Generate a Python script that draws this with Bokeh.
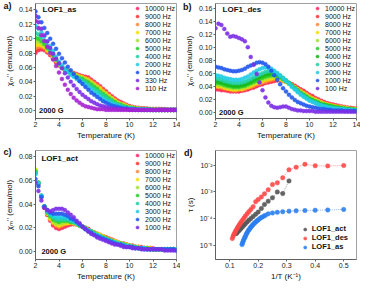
from bokeh.plotting import figure
from bokeh.layouts import gridplot
from bokeh.models import (Label, Legend, LegendItem, Range1d, FixedTicker, LinearAxis,
                          NumeralTickFormatter, CustomJSTickFormatter)
from bokeh.embed import file_html
from bokeh.resources import INLINE

FONT = "Liberation Sans"

# ---------------- data ----------------
T = [2.00, 2.25, 2.50, 2.75, 3.00, 3.25, 3.50, 3.75, 4.00, 4.25, 4.50, 4.75, 5.00, 5.25, 5.50, 5.75,
     6.00, 6.25, 6.50, 6.75, 7.00, 7.25, 7.50, 7.75, 8.00, 8.25, 8.50, 8.75, 9.00, 9.25, 9.50, 9.75,
     10.00, 10.25, 10.50, 10.75, 11.00, 11.25, 11.50, 11.75, 12.00, 12.25, 12.50, 12.75, 13.00, 13.25, 13.50, 13.75, 14.00]

# panel a: LOF1_as
a_labels = ["10000 Hz", "9000 Hz", "8000 Hz", "7000 Hz", "6000 Hz", "5000 Hz", "4000 Hz",
            "2000 Hz", "1000 Hz", "330 Hz", "110 Hz"]
a_10000 = [0.080, 0.084, 0.085, 0.084, 0.081, 0.077, 0.072, 0.067, 0.063, 0.060, 0.057, 0.055, 0.053, 0.052, 0.051, 0.049,
           0.048, 0.047, 0.046, 0.043, 0.040, 0.037, 0.034, 0.030, 0.027, 0.023, 0.020, 0.017, 0.014, 0.012, 0.010, 0.008,
           0.006, 0.005, 0.004, 0.004, 0.003, 0.003, 0.003, 0.002, 0.002, 0.002, 0.002, 0.002, 0.002, 0.001, 0.001, 0.001, 0.001]
a_9000 = [0.083, 0.086, 0.087, 0.086, 0.082, 0.078, 0.073, 0.068, 0.063, 0.060, 0.057, 0.055, 0.053, 0.052, 0.050, 0.049,
          0.047, 0.046, 0.045, 0.042, 0.039, 0.036, 0.033, 0.029, 0.026, 0.022, 0.019, 0.016, 0.013, 0.011, 0.009, 0.007,
          0.006, 0.005, 0.004, 0.003, 0.003, 0.003, 0.002, 0.002, 0.002, 0.002, 0.002, 0.002, 0.001, 0.001, 0.001, 0.001, 0.001]
a_8000 = [0.087, 0.089, 0.089, 0.087, 0.083, 0.079, 0.074, 0.069, 0.064, 0.060, 0.057, 0.055, 0.053, 0.051, 0.050, 0.048,
          0.047, 0.045, 0.044, 0.041, 0.038, 0.035, 0.032, 0.028, 0.025, 0.021, 0.018, 0.015, 0.012, 0.010, 0.009, 0.007,
          0.005, 0.004, 0.004, 0.003, 0.003, 0.002, 0.002, 0.002, 0.002, 0.002, 0.002, 0.001, 0.001, 0.001, 0.001, 0.001, 0.001]
a_7000 = [0.091, 0.092, 0.091, 0.089, 0.084, 0.080, 0.075, 0.070, 0.064, 0.061, 0.057, 0.055, 0.053, 0.051, 0.049, 0.047,
          0.046, 0.044, 0.042, 0.039, 0.036, 0.033, 0.030, 0.026, 0.023, 0.020, 0.017, 0.014, 0.011, 0.009, 0.008, 0.006,
          0.005, 0.004, 0.003, 0.003, 0.002, 0.002, 0.002, 0.002, 0.002, 0.002, 0.001, 0.001, 0.001, 0.001, 0.001, 0.001, 0.001]
a_6000 = [0.096, 0.096, 0.094, 0.091, 0.086, 0.081, 0.076, 0.070, 0.064, 0.061, 0.057, 0.054, 0.052, 0.050, 0.048, 0.046,
          0.045, 0.043, 0.041, 0.038, 0.035, 0.032, 0.028, 0.025, 0.022, 0.019, 0.016, 0.013, 0.010, 0.009, 0.007, 0.006,
          0.004, 0.004, 0.003, 0.003, 0.002, 0.002, 0.002, 0.002, 0.002, 0.001, 0.001, 0.001, 0.001, 0.001, 0.001, 0.001, 0.001]
a_5000 = [0.101, 0.100, 0.097, 0.093, 0.087, 0.082, 0.077, 0.071, 0.065, 0.061, 0.057, 0.054, 0.052, 0.050, 0.047, 0.045,
          0.044, 0.041, 0.039, 0.036, 0.033, 0.030, 0.026, 0.023, 0.020, 0.017, 0.014, 0.012, 0.009, 0.008, 0.006, 0.005,
          0.004, 0.003, 0.003, 0.002, 0.002, 0.002, 0.002, 0.002, 0.001, 0.001, 0.001, 0.001, 0.001, 0.001, 0.001, 0.001, 0.001]
a_4000 = [0.108, 0.106, 0.102, 0.097, 0.090, 0.085, 0.079, 0.072, 0.066, 0.062, 0.058, 0.054, 0.051, 0.049, 0.046, 0.044,
          0.042, 0.039, 0.036, 0.033, 0.030, 0.027, 0.024, 0.021, 0.018, 0.015, 0.013, 0.010, 0.008, 0.007, 0.005, 0.004,
          0.004, 0.003, 0.002, 0.002, 0.002, 0.002, 0.002, 0.001, 0.001, 0.001, 0.001, 0.001, 0.001, 0.001, 0.001, 0.001, 0.001]
a_2000 = [0.118, 0.114, 0.109, 0.103, 0.096, 0.090, 0.083, 0.075, 0.068, 0.063, 0.058, 0.054, 0.050, 0.047, 0.044, 0.041,
          0.038, 0.035, 0.032, 0.029, 0.025, 0.022, 0.019, 0.016, 0.014, 0.012, 0.010, 0.008, 0.006, 0.005, 0.004, 0.003,
          0.003, 0.002, 0.002, 0.002, 0.002, 0.001, 0.001, 0.001, 0.001, 0.001, 0.001, 0.001, 0.001, 0.001, 0.001, 0.001, 0.001]
a_1000 = [0.138, 0.130, 0.123, 0.115, 0.108, 0.100, 0.093, 0.086, 0.079, 0.073, 0.067, 0.061, 0.056, 0.051, 0.046, 0.041,
          0.037, 0.033, 0.029, 0.025, 0.022, 0.019, 0.016, 0.013, 0.011, 0.009, 0.007, 0.006, 0.005, 0.004, 0.003, 0.003,
          0.002, 0.002, 0.002, 0.001, 0.001, 0.001, 0.001, 0.001, 0.001, 0.001, 0.001, 0.001, 0.001, 0.001, 0.001, 0.001, 0.001]
a_330 = [0.132, 0.123, 0.114, 0.105, 0.096, 0.087, 0.079, 0.072, 0.066, 0.059, 0.052, 0.046, 0.040, 0.035, 0.030, 0.026,
         0.022, 0.019, 0.016, 0.013, 0.011, 0.009, 0.007, 0.006, 0.005, 0.004, 0.003, 0.003, 0.002, 0.002, 0.002, 0.002,
         0.001, 0.001, 0.001, 0.001, 0.001, 0.001, 0.001, 0.001, 0.001, 0.001, 0.001, 0.001, 0.001, 0.001, 0.001, 0.001, 0.001]
a_110 = [0.125, 0.115, 0.105, 0.097, 0.089, 0.080, 0.071, 0.062, 0.053, 0.044, 0.036, 0.029, 0.023, 0.018, 0.014, 0.011,
         0.008, 0.006, 0.005, 0.004, 0.003, 0.002, 0.002, 0.002, 0.001, 0.001, 0.001, 0.001, 0.001, 0.001, 0.001, 0.001,
         0.001, 0.001, 0.001, 0.001, 0.001, 0.001, 0.001, 0.001, 0.001, 0.001, 0.001, 0.001, 0.001, 0.001, 0.001, 0.001, 0.001]

# panel b: LOF1_des
b_labels = ["10000 Hz", "9000 Hz", "8000 Hz", "7000 Hz", "6000 Hz", "5000 Hz", "4000 Hz",
            "3000 Hz", "2000 Hz", "1000 Hz", "100 Hz"]
b_10000 = [0.035, 0.035, 0.034, 0.034, 0.033, 0.032, 0.032, 0.032, 0.032, 0.033, 0.034, 0.035, 0.037, 0.038, 0.040, 0.042,
           0.043, 0.045, 0.046, 0.047, 0.048, 0.049, 0.049, 0.048, 0.047, 0.045, 0.043, 0.041, 0.038, 0.035, 0.033, 0.030,
           0.027, 0.025, 0.022, 0.020, 0.018, 0.016, 0.014, 0.013, 0.012, 0.011, 0.010, 0.009, 0.008, 0.007, 0.007, 0.006, 0.006]
b_9000 = [0.037, 0.037, 0.036, 0.035, 0.034, 0.034, 0.033, 0.033, 0.033, 0.034, 0.035, 0.036, 0.038, 0.039, 0.041, 0.043,
          0.044, 0.046, 0.047, 0.048, 0.049, 0.050, 0.050, 0.049, 0.047, 0.045, 0.043, 0.040, 0.037, 0.035, 0.032, 0.029,
          0.026, 0.024, 0.021, 0.019, 0.017, 0.015, 0.014, 0.012, 0.011, 0.010, 0.009, 0.008, 0.008, 0.007, 0.006, 0.006, 0.005]
b_8000 = [0.039, 0.039, 0.038, 0.037, 0.036, 0.035, 0.034, 0.034, 0.035, 0.035, 0.036, 0.038, 0.039, 0.041, 0.043, 0.044,
          0.046, 0.047, 0.049, 0.050, 0.051, 0.051, 0.050, 0.049, 0.047, 0.045, 0.042, 0.039, 0.036, 0.033, 0.030, 0.028,
          0.025, 0.022, 0.020, 0.018, 0.016, 0.014, 0.013, 0.011, 0.010, 0.009, 0.009, 0.008, 0.007, 0.006, 0.006, 0.005, 0.005]
b_7000 = [0.041, 0.040, 0.040, 0.038, 0.037, 0.036, 0.035, 0.035, 0.036, 0.036, 0.038, 0.039, 0.041, 0.043, 0.045, 0.046,
          0.048, 0.050, 0.051, 0.052, 0.053, 0.052, 0.051, 0.049, 0.047, 0.044, 0.041, 0.038, 0.035, 0.032, 0.029, 0.026,
          0.023, 0.021, 0.019, 0.017, 0.015, 0.013, 0.012, 0.011, 0.010, 0.009, 0.008, 0.007, 0.007, 0.006, 0.005, 0.005, 0.005]
b_6000 = [0.043, 0.042, 0.042, 0.040, 0.039, 0.038, 0.037, 0.037, 0.037, 0.038, 0.039, 0.041, 0.043, 0.045, 0.047, 0.049,
          0.051, 0.052, 0.054, 0.055, 0.055, 0.054, 0.052, 0.050, 0.047, 0.044, 0.041, 0.037, 0.034, 0.031, 0.028, 0.025,
          0.022, 0.020, 0.018, 0.016, 0.014, 0.013, 0.011, 0.010, 0.009, 0.008, 0.008, 0.007, 0.006, 0.006, 0.005, 0.005, 0.004]
b_5000 = [0.045, 0.045, 0.044, 0.042, 0.041, 0.040, 0.039, 0.039, 0.039, 0.040, 0.041, 0.043, 0.045, 0.047, 0.049, 0.051,
          0.053, 0.055, 0.056, 0.057, 0.057, 0.056, 0.054, 0.051, 0.048, 0.045, 0.041, 0.037, 0.034, 0.030, 0.027, 0.024,
          0.021, 0.019, 0.017, 0.015, 0.013, 0.012, 0.011, 0.010, 0.009, 0.008, 0.007, 0.006, 0.006, 0.005, 0.005, 0.004, 0.004]
b_4000 = [0.048, 0.047, 0.046, 0.045, 0.043, 0.042, 0.041, 0.041, 0.041, 0.042, 0.043, 0.045, 0.047, 0.050, 0.052, 0.054,
          0.056, 0.058, 0.059, 0.060, 0.059, 0.058, 0.055, 0.052, 0.049, 0.045, 0.041, 0.037, 0.033, 0.029, 0.026, 0.023,
          0.020, 0.018, 0.016, 0.014, 0.012, 0.011, 0.010, 0.009, 0.008, 0.007, 0.007, 0.006, 0.005, 0.005, 0.004, 0.004, 0.004]
b_3000 = [0.052, 0.051, 0.050, 0.048, 0.047, 0.046, 0.045, 0.045, 0.045, 0.046, 0.047, 0.049, 0.051, 0.054, 0.056, 0.058,
          0.060, 0.062, 0.063, 0.063, 0.062, 0.060, 0.057, 0.053, 0.049, 0.045, 0.041, 0.037, 0.033, 0.029, 0.025, 0.022,
          0.019, 0.017, 0.015, 0.013, 0.011, 0.010, 0.009, 0.008, 0.007, 0.006, 0.006, 0.005, 0.005, 0.004, 0.004, 0.004, 0.003]
b_2000 = [0.057, 0.056, 0.055, 0.053, 0.052, 0.051, 0.050, 0.050, 0.050, 0.051, 0.053, 0.055, 0.058, 0.061, 0.064, 0.066,
          0.068, 0.069, 0.068, 0.067, 0.064, 0.060, 0.056, 0.052, 0.048, 0.044, 0.039, 0.035, 0.031, 0.027, 0.024, 0.021,
          0.018, 0.016, 0.014, 0.012, 0.011, 0.009, 0.008, 0.007, 0.006, 0.006, 0.005, 0.005, 0.004, 0.004, 0.004, 0.003, 0.003]
b_1000 = [0.070, 0.069, 0.068, 0.066, 0.065, 0.064, 0.063, 0.063, 0.064, 0.065, 0.067, 0.070, 0.072, 0.074, 0.076, 0.077,
          0.076, 0.074, 0.070, 0.064, 0.057, 0.050, 0.043, 0.037, 0.032, 0.027, 0.023, 0.019, 0.016, 0.014, 0.012, 0.010,
          0.009, 0.008, 0.007, 0.006, 0.005, 0.005, 0.004, 0.004, 0.003, 0.003, 0.003, 0.003, 0.002, 0.002, 0.002, 0.002, 0.002]
b_100 = [0.129, 0.136, 0.134, 0.128, 0.121, 0.116, 0.117, 0.116, 0.114, 0.112, 0.109, 0.100, 0.085, 0.073, 0.059, 0.046,
         0.034, 0.023, 0.015, 0.010, 0.008, 0.007, 0.008, 0.009, 0.009, 0.007, 0.005, 0.004, 0.003, 0.003, 0.002, 0.002,
         0.002, 0.002, 0.001, 0.001, 0.001, 0.001, 0.001, 0.001, 0.001, 0.001, 0.001, 0.001, 0.001, 0.001, 0.001, 0.001, 0.001]

# panel c: LOF1_act
c_labels = ["10000 Hz", "9000 Hz", "8000 Hz", "7000 Hz", "6000 Hz", "5000 Hz", "4000 Hz",
            "3000 Hz", "2000 Hz", "1000 Hz"]
c_10000 = [0.067, 0.057, 0.046, 0.037, 0.031, 0.026, 0.022, 0.020, 0.019, 0.020, 0.021, 0.022, 0.023, 0.023, 0.023, 0.022,
           0.021, 0.020, 0.019, 0.017, 0.016, 0.015, 0.014, 0.013, 0.012, 0.011, 0.010, 0.009, 0.008, 0.007, 0.007, 0.006,
           0.005, 0.005, 0.004, 0.004, 0.004, 0.003, 0.003, 0.003, 0.003, 0.002, 0.002, 0.002, 0.002, 0.002, 0.002, 0.002, 0.002]
c_9000 = [0.068, 0.057, 0.046, 0.037, 0.031, 0.027, 0.023, 0.021, 0.020, 0.021, 0.022, 0.023, 0.023, 0.024, 0.023, 0.022,
          0.021, 0.020, 0.019, 0.017, 0.016, 0.015, 0.014, 0.013, 0.012, 0.011, 0.010, 0.009, 0.008, 0.007, 0.006, 0.006,
          0.005, 0.005, 0.004, 0.004, 0.003, 0.003, 0.003, 0.003, 0.002, 0.002, 0.002, 0.002, 0.002, 0.002, 0.002, 0.002, 0.002]
c_8000 = [0.068, 0.058, 0.046, 0.038, 0.032, 0.027, 0.024, 0.022, 0.021, 0.022, 0.023, 0.024, 0.024, 0.024, 0.023, 0.022,
          0.021, 0.020, 0.018, 0.017, 0.016, 0.015, 0.014, 0.013, 0.012, 0.011, 0.010, 0.009, 0.008, 0.007, 0.006, 0.006,
          0.005, 0.005, 0.004, 0.004, 0.003, 0.003, 0.003, 0.003, 0.002, 0.002, 0.002, 0.002, 0.002, 0.002, 0.002, 0.002, 0.002]
c_7000 = [0.069, 0.058, 0.047, 0.038, 0.032, 0.028, 0.025, 0.023, 0.022, 0.023, 0.024, 0.024, 0.025, 0.024, 0.023, 0.022,
          0.021, 0.020, 0.018, 0.017, 0.016, 0.015, 0.014, 0.013, 0.011, 0.010, 0.009, 0.009, 0.008, 0.007, 0.006, 0.006,
          0.005, 0.004, 0.004, 0.004, 0.003, 0.003, 0.003, 0.003, 0.002, 0.002, 0.002, 0.002, 0.002, 0.002, 0.002, 0.002, 0.002]
c_6000 = [0.068, 0.058, 0.047, 0.038, 0.033, 0.029, 0.026, 0.024, 0.024, 0.024, 0.025, 0.025, 0.025, 0.024, 0.023, 0.022,
          0.021, 0.020, 0.018, 0.017, 0.016, 0.015, 0.013, 0.012, 0.011, 0.010, 0.009, 0.008, 0.008, 0.007, 0.006, 0.005,
          0.005, 0.004, 0.004, 0.003, 0.003, 0.003, 0.003, 0.002, 0.002, 0.002, 0.002, 0.002, 0.002, 0.002, 0.002, 0.002, 0.002]
c_5000 = [0.067, 0.058, 0.047, 0.038, 0.033, 0.030, 0.027, 0.026, 0.025, 0.026, 0.026, 0.026, 0.025, 0.025, 0.024, 0.022,
          0.021, 0.020, 0.018, 0.017, 0.016, 0.014, 0.013, 0.012, 0.011, 0.010, 0.009, 0.008, 0.007, 0.007, 0.006, 0.005,
          0.005, 0.004, 0.004, 0.003, 0.003, 0.003, 0.003, 0.002, 0.002, 0.002, 0.002, 0.002, 0.002, 0.002, 0.002, 0.002, 0.002]
c_4000 = [0.066, 0.058, 0.047, 0.038, 0.034, 0.031, 0.029, 0.027, 0.027, 0.027, 0.027, 0.027, 0.026, 0.025, 0.024, 0.022,
          0.021, 0.019, 0.018, 0.017, 0.015, 0.014, 0.013, 0.012, 0.011, 0.010, 0.009, 0.008, 0.007, 0.006, 0.006, 0.005,
          0.005, 0.004, 0.004, 0.003, 0.003, 0.003, 0.002, 0.002, 0.002, 0.002, 0.002, 0.002, 0.002, 0.002, 0.002, 0.002, 0.002]
c_3000 = [0.065, 0.057, 0.047, 0.038, 0.034, 0.032, 0.030, 0.029, 0.029, 0.029, 0.029, 0.028, 0.027, 0.026, 0.024, 0.023,
          0.021, 0.019, 0.018, 0.016, 0.015, 0.014, 0.013, 0.011, 0.010, 0.009, 0.008, 0.008, 0.007, 0.006, 0.005, 0.005,
          0.004, 0.004, 0.003, 0.003, 0.003, 0.003, 0.002, 0.002, 0.002, 0.002, 0.002, 0.002, 0.002, 0.002, 0.002, 0.002, 0.002]
c_2000 = [0.061, 0.055, 0.046, 0.038, 0.035, 0.033, 0.032, 0.032, 0.032, 0.032, 0.031, 0.030, 0.028, 0.027, 0.025, 0.023,
          0.021, 0.019, 0.017, 0.016, 0.014, 0.013, 0.012, 0.011, 0.010, 0.009, 0.008, 0.007, 0.006, 0.006, 0.005, 0.004,
          0.004, 0.004, 0.003, 0.003, 0.003, 0.002, 0.002, 0.002, 0.002, 0.002, 0.002, 0.002, 0.002, 0.002, 0.002, 0.002, 0.001]
c_1000 = [0.058, 0.051, 0.043, 0.037, 0.035, 0.034, 0.035, 0.036, 0.036, 0.036, 0.035, 0.033, 0.031, 0.029, 0.026, 0.024,
          0.021, 0.019, 0.017, 0.015, 0.014, 0.012, 0.011, 0.010, 0.009, 0.008, 0.007, 0.006, 0.006, 0.005, 0.004, 0.004,
          0.004, 0.003, 0.003, 0.003, 0.002, 0.002, 0.002, 0.002, 0.002, 0.002, 0.002, 0.002, 0.001, 0.001, 0.001, 0.001, 0.001]

# panel d: relaxation time vs 1/T
d_labels = ["LOF1_act", "LOF1_des", "LOF1_as"]
act_invT = [0.122, 0.125, 0.128, 0.132, 0.136, 0.140, 0.145, 0.150, 0.155, 0.161, 0.167, 0.174, 0.182, 0.191,
            0.200, 0.211, 0.222, 0.235, 0.250, 0.267, 0.286, 0.308]
act_tau = [2.7e-5, 2.9e-5, 3.2e-5, 3.5e-5, 3.9e-5, 4.3e-5, 4.9e-5, 5.6e-5, 6.4e-5, 7.4e-5, 8.6e-5, 1.0e-4, 1.2e-4, 1.45e-4,
           1.75e-4, 2.4e-4, 3.4e-4, 4.5e-4, 6.0e-4, 1.0e-3, 8.7e-4, 2.6e-3]
des_invT = [0.109, 0.112, 0.115, 0.118, 0.121, 0.125, 0.128, 0.132, 0.136, 0.140, 0.145, 0.150, 0.155, 0.161, 0.167,
            0.174, 0.182, 0.191, 0.200, 0.211, 0.222, 0.235, 0.250, 0.267, 0.286, 0.308, 0.333, 0.364, 0.400, 0.444, 0.500]
des_tau = [1.8e-5, 2.2e-5, 2.6e-5, 3.0e-5, 3.5e-5, 4.1e-5, 4.7e-5, 5.5e-5, 6.4e-5, 7.5e-5, 8.8e-5, 1.05e-4, 1.25e-4, 1.5e-4, 1.8e-4,
           2.2e-4, 2.8e-4, 4.3e-4, 5.2e-4, 6.5e-4, 8.5e-4, 1.2e-3, 1.9e-3, 2.2e-3, 3.4e-3, 6.8e-3, 8.5e-3, 1.1e-2, 9.6e-3, 9.5e-3, 9.8e-3]
as_invT = [0.143, 0.145, 0.147, 0.149, 0.152, 0.154, 0.156, 0.159, 0.161, 0.164, 0.167, 0.170, 0.173, 0.176, 0.179, 0.182,
           0.186, 0.190, 0.194, 0.198, 0.203, 0.208, 0.213, 0.219, 0.225, 0.235, 0.250, 0.267, 0.286, 0.308, 0.333, 0.364,
           0.400, 0.444, 0.500]
as_tau = [1.05e-5, 1.2e-5, 1.4e-5, 1.6e-5, 1.85e-5, 2.05e-5, 2.3e-5, 2.7e-5, 2.95e-5, 3.4e-5, 3.75e-5, 4.15e-5, 4.6e-5, 5.0e-5,
          5.5e-5, 6.0e-5, 6.6e-5, 7.2e-5, 7.9e-5, 8.6e-5, 9.5e-5, 1.05e-4, 1.12e-4, 1.22e-4, 1.32e-4, 1.5e-4, 1.62e-4, 1.72e-4,
          1.8e-4, 1.9e-4, 1.95e-4, 2.0e-4, 2.05e-4, 2.1e-4, 2.2e-4]

# ---------------- styling ----------------
PINK, RED, ORANGE, YELLOW = "#ff2e6e", "#ff3a3a", "#ff8c42", "#f2e200"
YGREEN, GREEN, DGREEN, TEAL = "#a4e23a", "#2ccf2c", "#18b818", "#22d0a8"
CYAN, BLUE, VIOLET, PURPLE = "#22cde6", "#2458ee", "#7b2fe6", "#a623d2"

a_colors = [PINK, RED, ORANGE, YELLOW, YGREEN, GREEN, TEAL, CYAN, BLUE, VIOLET, PURPLE]
b_colors = [PINK, RED, ORANGE, YELLOW, YGREEN, GREEN, DGREEN, TEAL, CYAN, BLUE, VIOLET]
c_colors = [PINK, RED, ORANGE, YELLOW, YGREEN, GREEN, TEAL, CYAN, BLUE, VIOLET]
d_colors = ["#555555", "#ff4848", "#2a7ff0"]

YLABEL = "\u03c7\u2098'' (emu/mol)"


def make_fig(width, height, xr, yr, top, y_type="linear"):
    p = figure(width=width, height=height, x_range=xr, y_range=yr, y_axis_type=y_type,
               output_backend="svg", toolbar_location=None, tools="",
               min_border_left=30, min_border_right=4,
               min_border_top=top, min_border_bottom=18)
    p.xgrid.visible = False
    p.ygrid.visible = False
    p.outline_line_color = "#a0a0a0"
    p.outline_line_width = 1
    for ax in (p.xaxis[0], p.yaxis[0]):
        ax.axis_line_color = "#606060"
        ax.major_tick_line_color = "#606060"
        ax.minor_tick_line_color = None
        ax.major_tick_out = 2
        ax.major_tick_in = 0
        ax.major_label_standoff = 1
        ax.major_label_text_font = FONT
        ax.major_label_text_font_size = "7px"
        ax.major_label_text_color = "#222222"
        ax.axis_label_text_font = FONT
        ax.axis_label_text_font_size = "8px"
        ax.axis_label_text_font_style = "normal"
        ax.axis_label_text_color = "#111111"
    p.xaxis[0].axis_label_standoff = 1
    p.yaxis[0].axis_label_standoff = 2
    return p


def corner_label(p, s, ytick):
    # outer left axis carrying only the panel letter as a horizontal tick label
    ax = LinearAxis(ticker=FixedTicker(ticks=[ytick], minor_ticks=[]),
                    formatter=CustomJSTickFormatter(code="return %r;" % s),
                    axis_line_color=None, major_tick_line_color=None, minor_tick_line_color=None,
                    major_tick_out=0, major_tick_in=0, major_label_standoff=-10,
                    major_label_text_font=FONT, major_label_text_font_size="9px",
                    major_label_text_font_style="bold", major_label_text_color="#111111")
    p.add_layout(ax, "left")


def add_series(p, xs, ys_list, colors, size=4.0):
    rs = []
    for ys, c in zip(ys_list, colors):
        r = p.scatter(xs, ys, marker="circle", size=size, fill_color=c, line_color=c,
                      line_width=0.4, fill_alpha=0.9)
        rs.append(r)
    return rs


def add_legend(p, renderers, labels, location, font_size="7px", bold=False, margin=1, standoff=4):
    items = [LegendItem(label=l, renderers=[r]) for l, r in zip(labels, renderers)]
    lg = Legend(items=items, location=location, margin=margin, padding=1, spacing=0,
                glyph_width=8, glyph_height=8, label_height=8, label_standoff=standoff,
                label_text_font=FONT, label_text_font_size=font_size,
                label_text_font_style="bold" if bold else "normal",
                label_text_color="#111111",
                border_line_color=None, background_fill_alpha=0)
    p.add_layout(lg)


def text(p, s, x, y, size="8px"):
    p.add_layout(Label(x=x, y=y, text=s, text_font=FONT, text_font_size=size,
                       text_font_style="bold", text_color="#111111",
                       text_baseline="middle", text_align="left"))


def temp_axes(p, ymax):
    p.xaxis[0].ticker = FixedTicker(ticks=[2, 4, 6, 8, 10, 12, 14])
    p.xaxis[0].formatter = NumeralTickFormatter(format="0")
    p.yaxis[0].ticker = FixedTicker(ticks=[round(0.02 * i, 2) for i in range(int(round(ymax / 0.02)) + 1)])
    p.yaxis[0].formatter = NumeralTickFormatter(format="0.00")
    p.xaxis[0].axis_label = "Temperature (K)"
    p.yaxis[0].axis_label = YLABEL


# ---- panel a ----
pa = make_fig(180, 142, Range1d(2, 14), Range1d(-0.011, 0.149), 3)
temp_axes(pa, 0.14)
ra = add_series(pa, T, [a_10000, a_9000, a_8000, a_7000, a_6000, a_5000, a_4000, a_2000, a_1000, a_330, a_110], a_colors)
add_legend(pa, ra, a_labels, "top_right")
text(pa, "LOF1_as", 2.6, 0.140)
text(pa, "2000 G", 2.3, 0.0, size="7.5px")
corner_label(pa, "a)", 0.145)

# ---- panel b ----
pb = make_fig(180, 142, Range1d(2, 14), Range1d(-0.0094, 0.167), 3)
temp_axes(pb, 0.16)
rb = add_series(pb, T, [b_10000, b_9000, b_8000, b_7000, b_6000, b_5000, b_4000, b_3000, b_2000, b_1000, b_100], b_colors)
add_legend(pb, rb, b_labels, "top_right")
text(pb, "LOF1_des", 2.6, 0.158)
text(pb, "2000 G", 2.3, 0.0, size="7.5px")
corner_label(pb, "b)", 0.162)

# ---- panel c ----
pc = make_fig(180, 141, Range1d(2, 14), Range1d(-0.0065, 0.085), 8)
temp_axes(pc, 0.08)
rc = add_series(pc, T, [c_10000, c_9000, c_8000, c_7000, c_6000, c_5000, c_4000, c_3000, c_2000, c_1000], c_colors)
add_legend(pc, rc, c_labels, "top_right")
text(pc, "LOF1_act", 2.5, 0.0785)
text(pc, "2000 G", 2.5, 0.0, size="7.5px")
corner_label(pc, "c)", 0.084)

# ---- panel d ----
pd = make_fig(180, 141, Range1d(0.05, 0.545), Range1d(2.9e-6, 3.6e-2), 8, y_type="log")
pd.xaxis[0].ticker = FixedTicker(ticks=[0.1, 0.2, 0.3, 0.4, 0.5])
pd.xaxis[0].formatter = NumeralTickFormatter(format="0.0")
pd.yaxis[0].ticker = FixedTicker(ticks=[1e-5, 1e-4, 1e-3, 1e-2], minor_ticks=[])
pd.yaxis[0].formatter = CustomJSTickFormatter(code="""
const e = Math.round(Math.log10(tick));
const sup = {"-": "\\u207b", "0": "\\u2070", "1": "\\u00b9", "2": "\\u00b2", "3": "\\u00b3",
             "4": "\\u2074", "5": "\\u2075", "6": "\\u2076", "7": "\\u2077", "8": "\\u2078", "9": "\\u2079"};
return "10" + String(e).split("").map(c => sup[c]).join("");
""")
pd.xaxis[0].axis_label = "1/T (K\u207b\u00b9)"
pd.yaxis[0].axis_label = "\u03c4 (s)"
rd = []
for xs, ys, c in zip([act_invT, des_invT, as_invT], [act_tau, des_tau, as_tau], d_colors):
    pd.line(xs, ys, line_color=c, line_width=0.7, line_dash="1 1", line_alpha=0.8)
for xs, ys, c in zip([act_invT, des_invT, as_invT], [act_tau, des_tau, as_tau], d_colors):
    rd.append(pd.scatter(xs, ys, marker="circle", size=4.5, fill_color=c, line_color=c,
                         line_width=0.4, fill_alpha=0.9))
add_legend(pd, rd, d_labels, "bottom_right", font_size="7.5px", bold=True, margin=8, standoff=3)
corner_label(pd, "d)", 3.0e-2)

grid = gridplot([[pa, pb], [pc, pd]], toolbar_location=None)

open("out.html", "w").write(file_html(grid, INLINE))
